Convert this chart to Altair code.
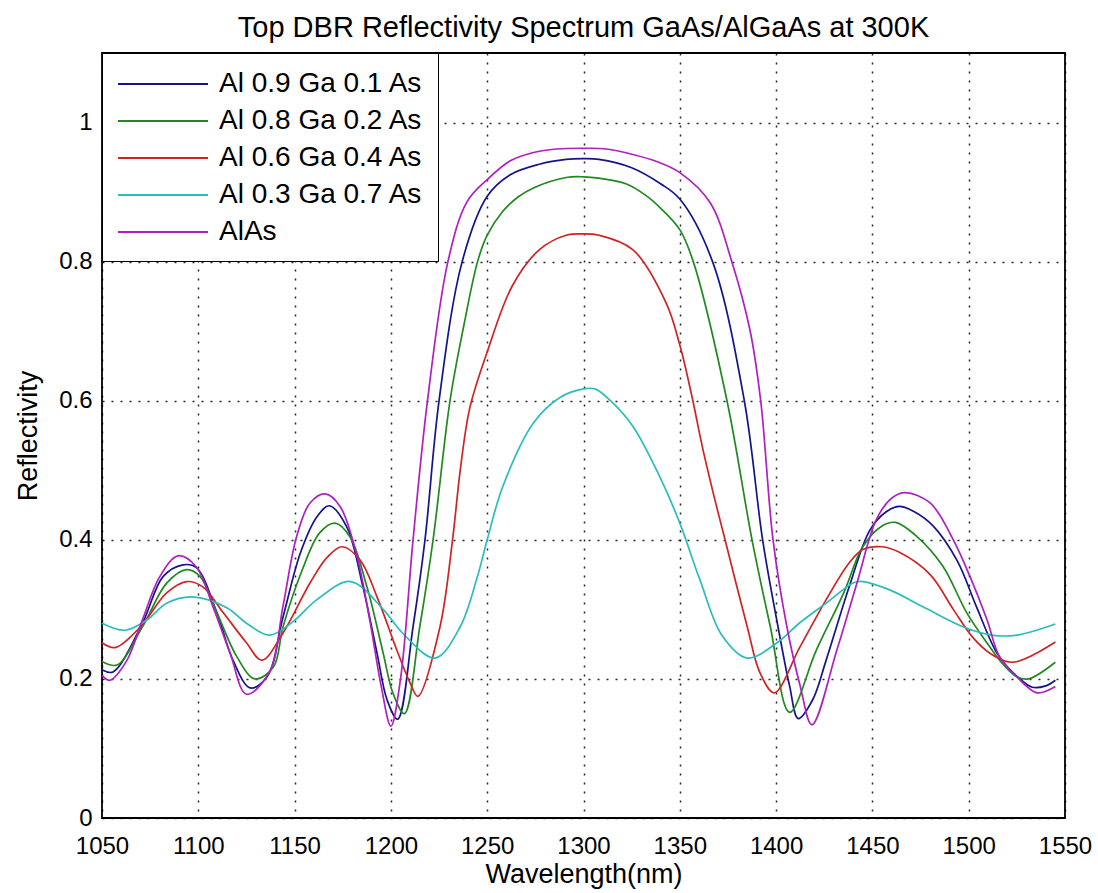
import altair as alt
import pandas as pd

# ---- data (wavelength nm, reflectivity) ----
lam_alas = [1050, 1054, 1063, 1071, 1080, 1089.5, 1099, 1107.6, 1116.5, 1125, 1137, 1144, 1151, 1158, 1166,
            1173.6, 1182, 1189, 1195, 1200, 1205, 1211.5, 1219, 1229.6, 1239.5, 1250, 1262, 1274, 1286, 1300,
            1312, 1325.7, 1338, 1350, 1365.7, 1377, 1386.4, 1392, 1398.4, 1405.6, 1412.4, 1418.6, 1431.6, 1442,
            1452, 1460, 1467, 1480, 1492, 1500.7, 1509.5, 1516, 1525, 1535.5, 1545]
r_alas = [0.205, 0.198, 0.227, 0.285, 0.347, 0.377, 0.361, 0.304, 0.237, 0.178, 0.21, 0.305, 0.404, 0.453, 0.466,
          0.448, 0.381, 0.285, 0.189, 0.132, 0.2, 0.4, 0.6, 0.8, 0.886, 0.918, 0.945, 0.957, 0.962, 0.963,
          0.962, 0.954, 0.944, 0.928, 0.885, 0.8, 0.702, 0.6, 0.4, 0.275, 0.191, 0.134, 0.242, 0.338,
          0.429, 0.46, 0.468, 0.453, 0.4, 0.347, 0.285, 0.232, 0.203, 0.18, 0.189]

lam_09 = [1050, 1055.7, 1071, 1081.7, 1092, 1099, 1109.7, 1118, 1127, 1135.7, 1144, 1153, 1161.6, 1168, 1177,
          1185.5, 1192.8, 1198, 1203.5, 1211.5, 1217.7, 1225, 1237, 1250, 1262, 1277, 1291, 1300, 1308, 1325,
          1340, 1350, 1367, 1383.5, 1393, 1401, 1407, 1411.5, 1419, 1426, 1438, 1448.7, 1457, 1464, 1472,
          1481.5, 1494, 1504, 1514.7, 1523, 1533, 1540, 1545]
r_09 = [0.213, 0.21, 0.28, 0.347, 0.364, 0.36, 0.295, 0.227, 0.187, 0.203, 0.289, 0.381, 0.433, 0.449, 0.419,
        0.332, 0.237, 0.17, 0.142, 0.275, 0.4, 0.6, 0.8, 0.894, 0.925, 0.94, 0.947, 0.948, 0.947, 0.935,
        0.912, 0.89, 0.8, 0.6, 0.4, 0.275, 0.19, 0.143, 0.17, 0.227, 0.333, 0.414, 0.44, 0.448, 0.44,
        0.42, 0.37, 0.304, 0.237, 0.209, 0.188, 0.19, 0.198]

lam_08 = [1050, 1057.8, 1071, 1083.7, 1094, 1101, 1109.7, 1120, 1129.4, 1139, 1144, 1154, 1163, 1171, 1178.8,
          1187.6, 1196, 1201, 1207, 1215, 1221.9, 1230.7, 1238, 1245, 1250, 1258, 1266, 1274, 1291, 1300, 1308,
          1322, 1332, 1340, 1350, 1357, 1374.5, 1387.5, 1397, 1407, 1421, 1435, 1445, 1455, 1462, 1473, 1486.6,
          1499, 1511, 1516, 1525, 1531, 1545]
r_08 = [0.225, 0.22, 0.275, 0.338, 0.357, 0.347, 0.295, 0.232, 0.2, 0.217, 0.275, 0.357, 0.41, 0.424, 0.404,
        0.332, 0.237, 0.18, 0.15, 0.275, 0.4, 0.6, 0.71, 0.8, 0.838, 0.872, 0.893, 0.906, 0.921, 0.922, 0.92,
        0.912, 0.896, 0.877, 0.846, 0.8, 0.6, 0.4, 0.275, 0.152, 0.242, 0.323, 0.39, 0.42, 0.425, 0.405, 0.362,
        0.295, 0.246, 0.227, 0.203, 0.2, 0.224]

lam_06 = [1050, 1056.7, 1070, 1083.7, 1094, 1102.5, 1113, 1125, 1133, 1144, 1158, 1167, 1174.6, 1184, 1192.8,
          1203, 1210, 1214, 1225.5, 1232, 1236, 1241, 1250, 1263, 1277, 1291, 1300, 1308, 1325.7, 1343, 1350,
          1356, 1362, 1368, 1373.5, 1385, 1391.6, 1399, 1412.4, 1426, 1438, 1445, 1455, 1464, 1480, 1492, 1502,
          1511, 1523, 1545]
r_06 = [0.252, 0.245, 0.275, 0.324, 0.34, 0.332, 0.295, 0.252, 0.227, 0.266, 0.338, 0.375, 0.39, 0.371, 0.318,
        0.242, 0.194, 0.175, 0.275, 0.4, 0.5, 0.59, 0.67, 0.765, 0.817, 0.838, 0.84, 0.838, 0.817, 0.74, 0.68,
        0.61, 0.53, 0.46, 0.4, 0.275, 0.209, 0.18, 0.246, 0.314, 0.367, 0.386, 0.39, 0.382, 0.35, 0.3, 0.26,
        0.237, 0.224, 0.253]

lam_03 = [1050, 1062, 1073.4, 1083.7, 1097, 1115, 1125, 1137, 1149, 1161.6, 1179, 1196, 1206, 1223, 1236,
          1244.7, 1250, 1258, 1274, 1288, 1300, 1306, 1314, 1325.7, 1339.7, 1350, 1360.5, 1372, 1385,
          1400.5, 1412, 1426, 1440, 1445, 1459, 1476, 1497, 1512, 1525, 1545]
r_03 = [0.28, 0.27, 0.285, 0.309, 0.318, 0.302, 0.28, 0.263, 0.282, 0.314, 0.34, 0.3, 0.266, 0.23, 0.275,
        0.345, 0.4, 0.476, 0.568, 0.605, 0.617, 0.617, 0.6, 0.563, 0.49, 0.424, 0.342, 0.262, 0.23,
        0.252, 0.28, 0.309, 0.338, 0.34, 0.328, 0.304, 0.275, 0.263, 0.263, 0.279]

series_names = ["Al 0.9 Ga 0.1 As", "Al 0.8 Ga 0.2 As", "Al 0.6 Ga 0.4 As", "Al 0.3 Ga 0.7 As", "AlAs"]
series_lams = [lam_09, lam_08, lam_06, lam_03, lam_alas]
series_refl = [r_09, r_08, r_06, r_03, r_alas]
series_colors = ["#14148c", "#1f8a1f", "#d02424", "#2cbcbc", "#b020c0"]
x_ticks = list(range(1050, 1551, 50))
y_ticks = [0, 0.2, 0.4, 0.6, 0.8, 1.0]

rows = []
for name, lams, rs in zip(series_names, series_lams, series_refl):
    for i, (l, r) in enumerate(zip(lams, rs)):
        rows.append({"series": name, "wavelength": l, "reflectivity": r, "order": i})
df = pd.DataFrame(rows)

FONT = "Liberation Sans"

chart = alt.Chart(df).mark_line(strokeWidth=1.7, interpolate="catmull-rom").encode(
    x=alt.X("wavelength:Q",
            scale=alt.Scale(domain=[1050, 1550], nice=False, zero=False),
            axis=alt.Axis(values=x_ticks, format="d", title="Wavelength(nm)")),
    y=alt.Y("reflectivity:Q",
            scale=alt.Scale(domain=[0, 1.1], nice=False),
            axis=alt.Axis(values=y_ticks, format="~g", title="Reflectivity")),
    color=alt.Color("series:N",
                    scale=alt.Scale(domain=series_names, range=series_colors),
                    legend=alt.Legend(title=None, orient="top-left", offset=0,
                                      fillColor="white", strokeColor="black",
                                      padding=15, symbolType="M-3,0L3,0",
                                      symbolSize=900, symbolStrokeWidth=2,
                                      symbolOffset=30,
                                      labelFontSize=28, labelFont=FONT,
                                      labelColor="black", rowPadding=7,
                                      labelOffset=40, labelLimit=400)),
    order="order:Q",
    detail="series:N",
).properties(
    width=963,
    height=765,
    title=alt.TitleParams("Top DBR Reflectivity Spectrum GaAs/AlGaAs at 300K",
                          fontSize=29, font=FONT, fontWeight="normal",
                          color="black", anchor="middle", offset=10),
    autosize=alt.AutoSizeParams(type="none"),
    padding={"left": 102, "top": 53, "right": 33, "bottom": 75},
).configure_view(
    stroke="black", strokeWidth=1.8
).configure_axis(
    domain=False,
    grid=True,
    gridColor="black",
    gridDash=[2, 7],
    gridWidth=1.5,
    gridOpacity=0.85,
    ticks=False,
    labelFont=FONT,
    labelColor="black",
    labelFlush=False,
    titleFont=FONT,
    titleFontWeight="normal",
    titleColor="black",
).configure_axisX(
    labelPadding=16, titlePadding=3, labelFontSize=24, titleFontSize=27
).configure_axisY(
    labelPadding=10, titlePadding=16, labelFontSize=24, titleFontSize=27
)

chart.save("out.html", embed_options={"renderer": "svg", "actions": False})
